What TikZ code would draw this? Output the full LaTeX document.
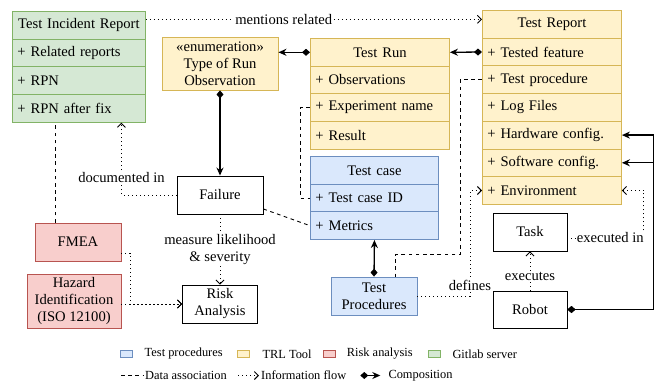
\documentclass[tikz,border=0pt]{standalone}
\usepackage{fontspec}
\setmainfont{Liberation Serif}
\usetikzlibrary{arrows.meta,positioning}

\definecolor{tpfill}{HTML}{DAE8FC}
\definecolor{tpline}{HTML}{6C8EBF}
\definecolor{trlfill}{HTML}{FFF2CC}
\definecolor{trlline}{HTML}{D6B656}
\definecolor{riskfill}{HTML}{F8CECC}
\definecolor{riskline}{HTML}{B85450}
\definecolor{gitfill}{HTML}{D5E8D4}
\definecolor{gitline}{HTML}{82B366}

\tikzset{
	umlbase/.style={draw, line width=0.9pt, font=\fontsize{14.6}{17}\selectfont, inner sep=2pt},
	hdr/.style={umlbase, minimum height=27.7pt, text width=#1, align=center, inner xsep=5pt, anchor=north west},
	row/.style={umlbase, minimum height=27.7pt, text width=#1, align=left, inner xsep=5pt, anchor=north west},
	simplebox/.style={umlbase, fill=white, align=center},
	tpbox/.style={fill=tpfill, draw=tpline},
	trlbox/.style={fill=trlfill, draw=trlline},
	riskbox/.style={fill=riskfill, draw=riskline},
	gitbox/.style={fill=gitfill, draw=gitline},
	assoc/.style={line width=0.9pt, dash pattern=on 3.6pt off 3.6pt},
	flow/.style={line width=0.9pt, dash pattern=on 1pt off 3pt, arrows={-Straight Barb[length=4pt,width=8pt]}},
	comp/.style={line width=1.3pt, arrows={Diamond[length=8pt,width=7pt]-Stealth[length=8pt,width=7pt]}},
	lbl/.style={fill=white, inner sep=1pt, font=\fontsize{14.6}{17}\selectfont},
	legtext/.style={font=\fontsize{12.4}{14}\selectfont, anchor=west, inner sep=0pt},
	swatch/.style={draw, line width=0.8pt, minimum width=12pt, minimum height=7pt, inner sep=0pt}
}

\begin{document}
\begin{tikzpicture}[x=1pt, y=-1pt]
			\useasboundingbox (0,0) rectangle (668,383);
			
			%%%%% classes %%%%%
			\node[hdr=123pt, gitbox] (tir) at (12,11) {Test Incident Report};
			\node[row=123pt, gitbox] (tir1) at (12,38.7) {+ Related reports};
			\node[row=123pt, gitbox] (tir2) at (12,66.4) {+ RPN};
			\node[row=123pt, gitbox] (tir3) at (12,94.1) {+ RPN after fix};
			
			\node[hdr=129pt, trlbox] (trun) at (310,38) {Test Run};
			\node[row=129pt, trlbox] (trun1) at (310,65.7) {+ Observations};
			\node[row=129pt, trlbox] (trun2) at (310,93.4) {+ Experiment name};
			\node[row=129pt, trlbox] (trun3) at (310,121.1) {+ Result};
			
			\node[hdr=129pt, trlbox] (trep) at (482,10) {Test Report};
			\node[row=129pt, trlbox] (trep1) at (482,37.7) {+ Tested feature};
			\node[row=129pt, trlbox] (trep2) at (482,65.4) {+ Test procedure};
			\node[row=129pt, trlbox] (trep3) at (482,93.1) {+ Log Files};
			\node[row=129pt, trlbox] (trep4) at (482,120.8) {+ Hardware config.};
			\node[row=129pt, trlbox] (trep5) at (482,148.5) {+ Software config.};
			\node[row=129pt, trlbox] (trep6) at (482,176.2) {+ Environment};
			
			\node[hdr=118pt, tpbox] (tc) at (310,156) {Test case};
			\node[row=118pt, tpbox] (tc1) at (310,183.7) {+ Test case ID};
			\node[row=118pt, tpbox] (tc2) at (310,211.4) {+ Metrics};
			
			%%%%% other boxes %%%%%
			\node[simplebox, trlbox, minimum width=116pt, minimum height=53pt] (type) at (220,63.5) {«enumeration»\\Type of Run\\Observation};
			\node[simplebox, minimum width=86pt, minimum height=38pt] (failure) at (220,195) {Failure};
			\node[simplebox, riskbox, minimum width=86pt, minimum height=38pt] (fmea) at (78,242) {FMEA};
			\node[simplebox, riskbox, minimum width=94pt, minimum height=54pt] (hazard) at (74,301) {Hazard\\Identification\\(ISO 12100)};
			\node[simplebox, minimum width=75pt, minimum height=38pt] (risk) at (220,304) {Risk\\Analysis};
			\node[simplebox, tpbox, minimum width=86pt, minimum height=38pt] (tproc) at (374,296) {Test\\Procedures};
			\node[simplebox, minimum width=74pt, minimum height=38pt] (task) at (530,232) {Task};
			\node[simplebox, minimum width=74pt, minimum height=37pt] (robot) at (530,309.5) {Robot};
			
			%%%%% composition %%%%%
			\draw[comp] (trun.west) -- (trun.west -| type.east);
			\draw[comp] (trep1.west) -- (trun.east);
			\draw[comp] (type.south) -- (failure.north);
			\draw[comp] (tproc.north) -- (tc2.south);
			\draw[comp] (robot.east) -- ++(86,0) |- (trep4.east);
			\draw[comp] (robot.east) -- ++(86,0) |- (trep5.east);
			
			%%%%% data association %%%%%
			\draw[assoc] (trep2.west) -- ++(-22,0) -- ++(0,175) -| ([xshift=21pt]tproc.north);
			\draw[assoc] (trun2.west) -- ++(-10,0) |- (tc1.west);
			\draw[assoc] ([yshift=-14pt]failure.east) -- (tc2.west);
			\draw[assoc] ([xshift=-23pt]fmea.north) -- ([xshift=-23pt]fmea.north |- tir3.south);
			
			%%%%% information flow %%%%%
			\draw[flow] ([yshift=6pt]tir.east) -- ([yshift=6pt]tir.east -| trep.west) node[lbl, pos=0.41] {mentions related};
			\draw[flow] (failure.west) -| node[lbl, pos=0.62] {documented in} ([xshift=42.5pt]tir3.south);
			\draw[flow] (failure.south) -- (risk.north) node[lbl, midway, align=center] {measure likelihood\\\& severity};
			\draw[flow] ([yshift=-11pt]fmea.east) -| ([xshift=-52pt]risk.west) -- (risk.west);
			\draw[flow] (hazard.east |- risk.west) -- (risk.west);
			\draw[flow] (tproc.east) -| node[lbl, pos=0.55] {defines} ([xshift=-12pt]trep6.west) -- (trep6.west);
			\draw[flow] ([yshift=-6pt]task.east) -| node[lbl, pos=0.28] {executed in} ([xshift=22pt]trep6.east) -- (trep6.east);
			\draw[flow] (robot.north) -- (task.south) node[lbl, pos=0.35] {executes};
			
			%%%%% legend %%%%%
			\node[swatch, tpbox] (sw1) at (126.5,354) {};
			\node[legtext] (lg1) at (144.5,354) {Test procedures};
			\node[swatch, trlbox] (sw2) at (243.5,354) {};
			\node[legtext] (lg2) at (262.3,354) {TRL Tool};
			\node[swatch, riskbox] (sw3) at (329,354) {};
			\node[legtext] (lg3) at (346.7,354) {Risk analysis};
			\node[swatch, gitbox] (sw4) at (434,354) {};
			\node[legtext] (lg4) at (452.3,354) {Gitlab server};
			
			\node[legtext] (lg5) at (145,375.5) {Data association};
			\node[legtext] (lg6) at (261,375.5) {Information flow};
			\node[legtext] (lg7) at (388.3,375.5) {Composition};
			\draw[assoc] ([xshift=-24pt]lg5.west) -- ([xshift=-2pt]lg5.west);
			\draw[flow] ([xshift=-23pt]lg6.west) -- ([xshift=-2pt]lg6.west);
			\draw[comp] ([xshift=-28pt]lg7.west) -- ([xshift=-8pt]lg7.west);
\end{tikzpicture}
\end{document}
